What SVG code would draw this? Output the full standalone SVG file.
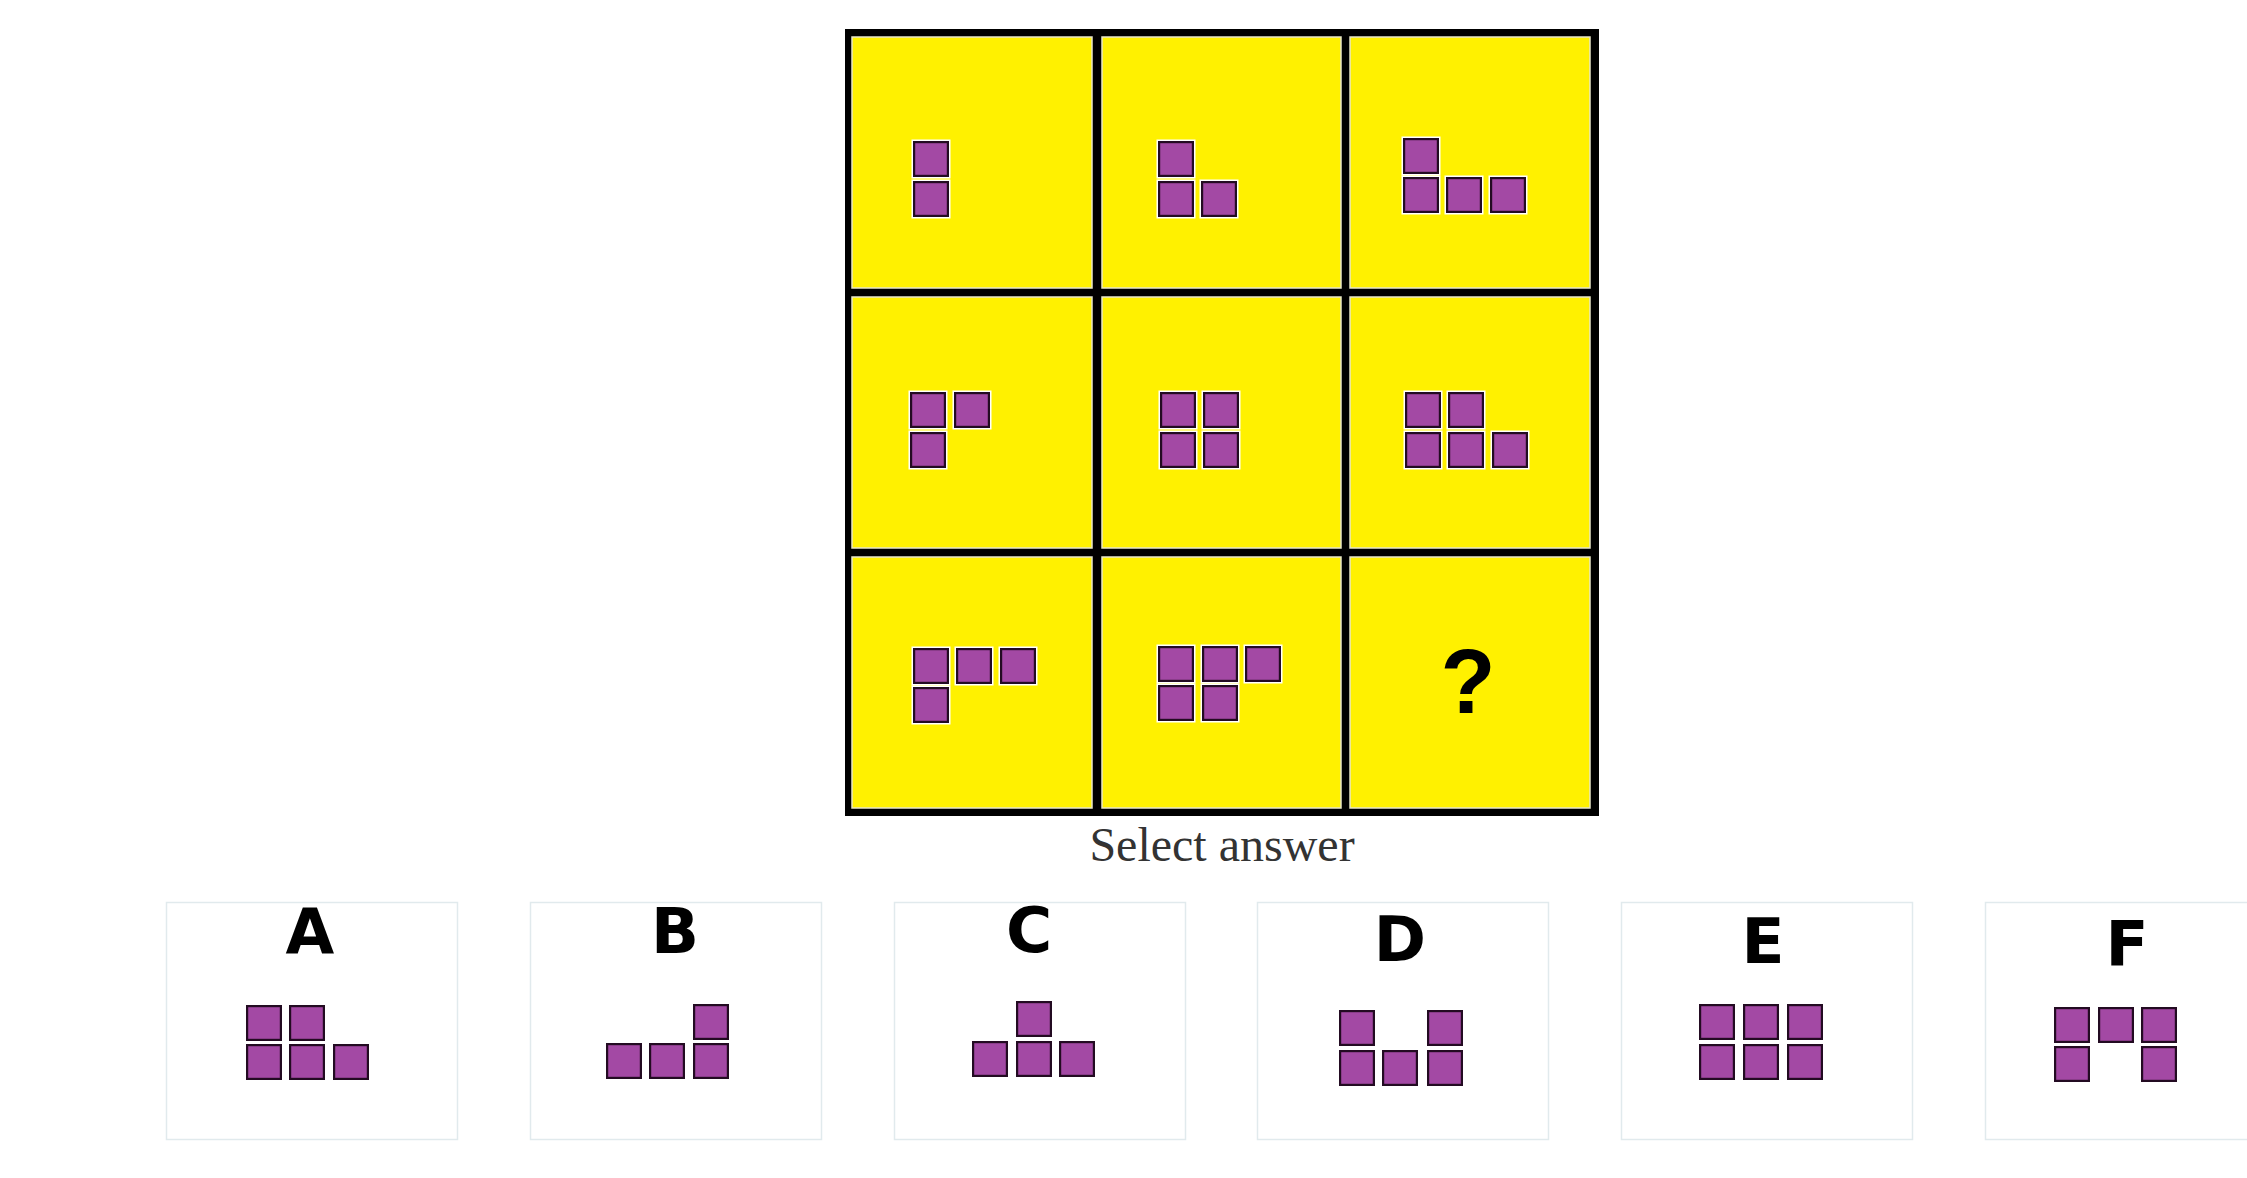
<svg xmlns="http://www.w3.org/2000/svg" xmlns:xlink="http://www.w3.org/1999/xlink" width="2247" height="1178" viewBox="0 0 2247 1178">
<style>
.cell{fill:#FFF100;stroke:#e9e6c8;stroke-width:1.5}
.opt{fill:#ffffff;stroke:#e1eaed;stroke-width:1.5}
.lbl{font-family:"DejaVu Sans",Verdana,sans-serif;font-weight:bold;font-size:63px;fill:#000;text-anchor:middle}
.q{font-family:"Liberation Sans",Arial,sans-serif;font-weight:bold;font-size:90px;fill:#000;text-anchor:middle}
.sel{font-family:"Liberation Serif","Times New Roman",serif;font-size:48px;fill:#333;text-anchor:middle}
</style>
<defs>
<g id="sq">
<rect x="-1.5" y="-1.5" width="39" height="39" fill="#ffffff"/>
<rect x="1.1" y="1.1" width="33.8" height="33.8" fill="#A349A4" stroke="#230b22" stroke-width="2.2"/>
</g>
</defs>
<rect width="2247" height="1178" fill="#ffffff"/>
<g id="grid">
<rect x="845" y="29" width="754" height="787" fill="#000"/>
<g id="cell-1-1"><rect class="cell" x="852" y="37" width="240" height="251"/>
<use xlink:href="#sq" x="913" y="141"/><use xlink:href="#sq" x="913" y="181"/></g>
<g id="cell-1-2"><rect class="cell" x="1102" y="37" width="239" height="251"/>
<use xlink:href="#sq" x="1158" y="141"/><use xlink:href="#sq" x="1158" y="181"/><use xlink:href="#sq" x="1201" y="181"/></g>
<g id="cell-1-3"><rect class="cell" x="1350" y="37" width="240" height="251"/>
<use xlink:href="#sq" x="1403" y="138"/><use xlink:href="#sq" x="1403" y="177"/><use xlink:href="#sq" x="1446" y="177"/><use xlink:href="#sq" x="1490" y="177"/></g>
<g id="cell-2-1"><rect class="cell" x="852" y="297" width="240" height="251"/>
<use xlink:href="#sq" x="910" y="392"/><use xlink:href="#sq" x="954" y="392"/><use xlink:href="#sq" x="910" y="432"/></g>
<g id="cell-2-2"><rect class="cell" x="1102" y="297" width="239" height="251"/>
<use xlink:href="#sq" x="1160" y="392"/><use xlink:href="#sq" x="1203" y="392"/><use xlink:href="#sq" x="1160" y="432"/><use xlink:href="#sq" x="1203" y="432"/></g>
<g id="cell-2-3"><rect class="cell" x="1350" y="297" width="240" height="251"/>
<use xlink:href="#sq" x="1405" y="392"/><use xlink:href="#sq" x="1448" y="392"/><use xlink:href="#sq" x="1405" y="432"/><use xlink:href="#sq" x="1448" y="432"/><use xlink:href="#sq" x="1492" y="432"/></g>
<g id="cell-3-1"><rect class="cell" x="852" y="557" width="240" height="251"/>
<use xlink:href="#sq" x="913" y="648"/><use xlink:href="#sq" x="956" y="648"/><use xlink:href="#sq" x="1000" y="648"/><use xlink:href="#sq" x="913" y="687"/></g>
<g id="cell-3-2"><rect class="cell" x="1102" y="557" width="239" height="251"/>
<use xlink:href="#sq" x="1158" y="646"/><use xlink:href="#sq" x="1202" y="646"/><use xlink:href="#sq" x="1245" y="646"/><use xlink:href="#sq" x="1158" y="685"/><use xlink:href="#sq" x="1202" y="685"/></g>
<g id="cell-3-3"><rect class="cell" x="1350" y="557" width="240" height="251"/>
<text class="q" x="1468" y="713">?</text></g>
</g>
<g id="caption"><text class="sel" x="1222" y="861">Select answer</text></g>
<g id="connectors"></g>
<g id="option-A"><rect class="opt" x="166.5" y="902.5" width="291" height="237"/>
<text class="lbl" x="310" y="953">A</text>
<use xlink:href="#sq" x="246" y="1005"/><use xlink:href="#sq" x="289" y="1005"/><use xlink:href="#sq" x="246" y="1044"/><use xlink:href="#sq" x="289" y="1044"/><use xlink:href="#sq" x="333" y="1044"/></g>
<g id="option-B"><rect class="opt" x="530.5" y="902.5" width="291" height="237"/>
<text class="lbl" x="675" y="953">B</text>
<use xlink:href="#sq" x="693" y="1004"/><use xlink:href="#sq" x="606" y="1043"/><use xlink:href="#sq" x="649" y="1043"/><use xlink:href="#sq" x="693" y="1043"/></g>
<g id="option-C"><rect class="opt" x="894.5" y="902.5" width="291" height="237"/>
<text class="lbl" x="1029" y="952">C</text>
<use xlink:href="#sq" x="1016" y="1001"/><use xlink:href="#sq" x="972" y="1041"/><use xlink:href="#sq" x="1016" y="1041"/><use xlink:href="#sq" x="1059" y="1041"/></g>
<g id="option-D"><rect class="opt" x="1257.5" y="902.5" width="291" height="237"/>
<text class="lbl" x="1400" y="961">D</text>
<use xlink:href="#sq" x="1339" y="1010"/><use xlink:href="#sq" x="1427" y="1010"/><use xlink:href="#sq" x="1339" y="1050"/><use xlink:href="#sq" x="1382" y="1050"/><use xlink:href="#sq" x="1427" y="1050"/></g>
<g id="option-E"><rect class="opt" x="1621.5" y="902.5" width="291" height="237"/>
<text class="lbl" x="1763" y="963">E</text>
<use xlink:href="#sq" x="1699" y="1004"/><use xlink:href="#sq" x="1743" y="1004"/><use xlink:href="#sq" x="1787" y="1004"/><use xlink:href="#sq" x="1699" y="1044"/><use xlink:href="#sq" x="1743" y="1044"/><use xlink:href="#sq" x="1787" y="1044"/></g>
<g id="option-F"><rect class="opt" x="1985.5" y="902.5" width="291" height="237"/>
<text class="lbl" x="2127" y="965">F</text>
<use xlink:href="#sq" x="2054" y="1007"/><use xlink:href="#sq" x="2098" y="1007"/><use xlink:href="#sq" x="2141" y="1007"/><use xlink:href="#sq" x="2054" y="1046"/><use xlink:href="#sq" x="2141" y="1046"/></g>
</svg>
